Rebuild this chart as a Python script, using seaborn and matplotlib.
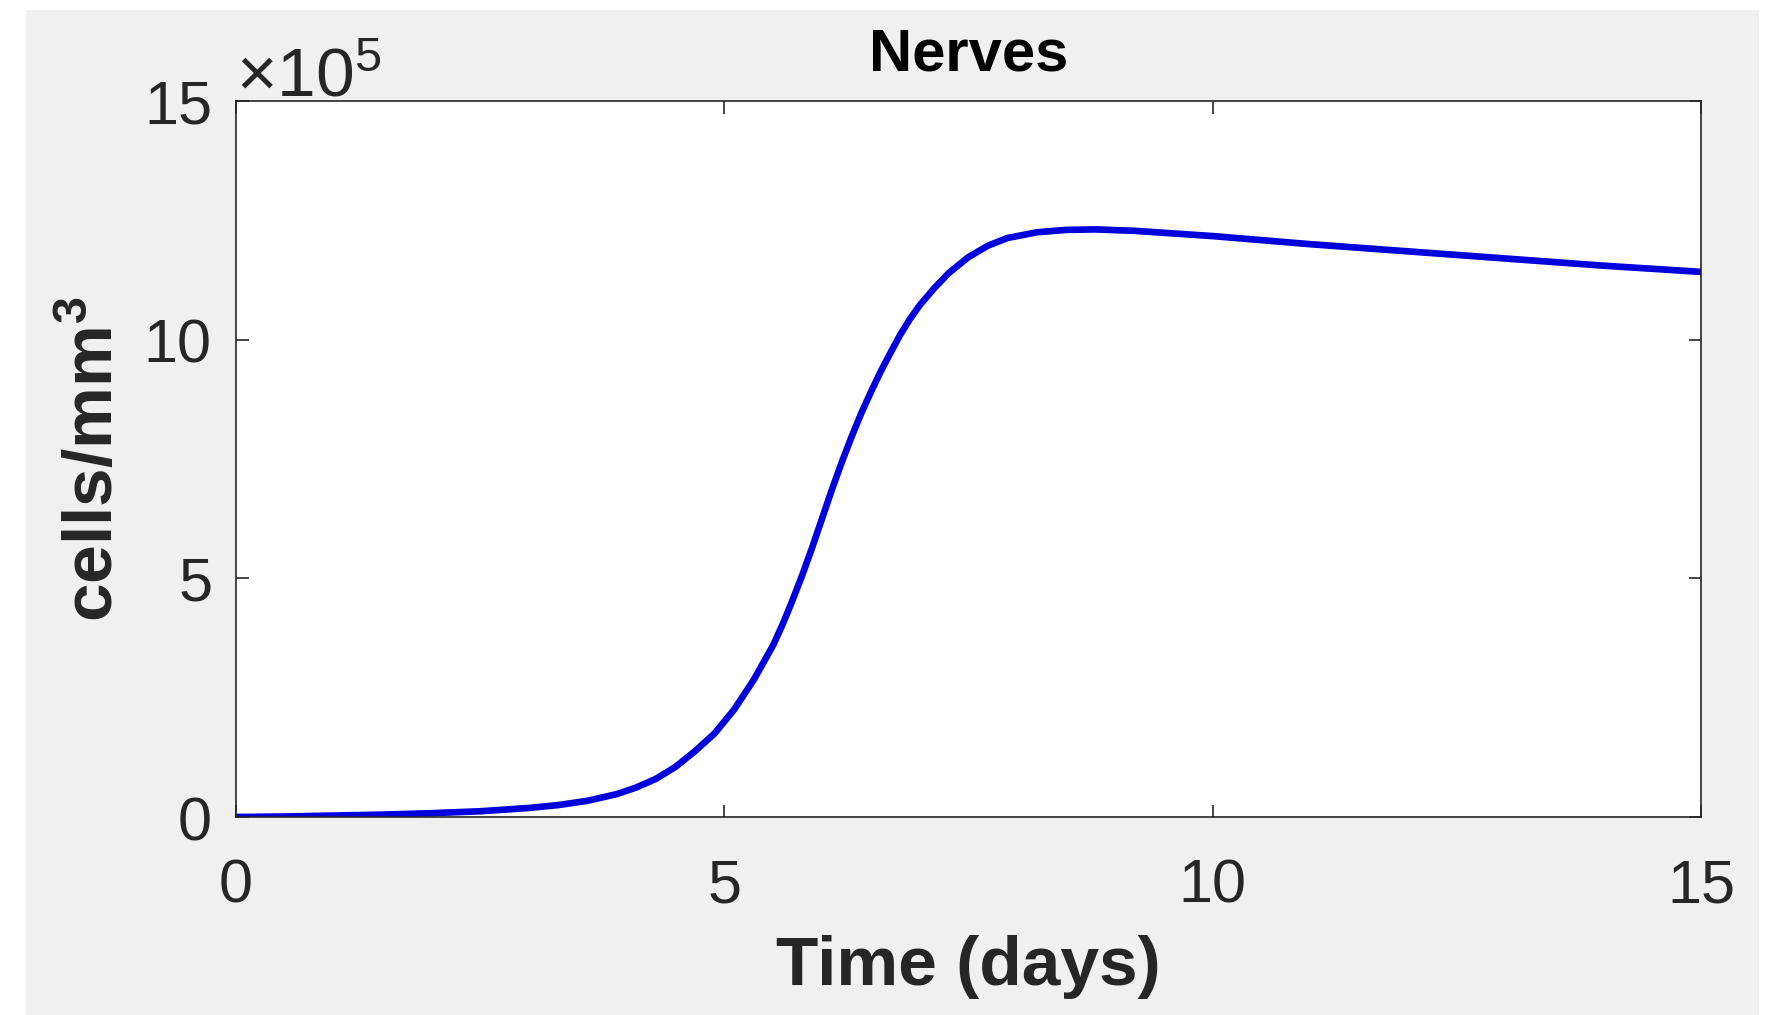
import numpy as np
import pandas as pd
import matplotlib
matplotlib.use("Agg")
import matplotlib.pyplot as plt
from matplotlib.patches import Rectangle
from matplotlib.ticker import ScalarFormatter
import seaborn as sns

# ---- data ----
time_days = [0, 0.5, 1.0, 1.5, 2.0, 2.5, 3.0, 3.3, 3.6, 3.9, 4.1, 4.3, 4.5, 4.7, 4.9,
             5.1, 5.3, 5.5, 5.6, 5.7, 5.8, 5.9, 6.0, 6.1, 6.2, 6.3, 6.4, 6.5, 6.6, 6.7,
             6.8, 6.9, 7.0, 7.15, 7.3, 7.5, 7.7, 7.9, 8.2, 8.5, 8.8, 9.2, 10, 11, 12,
             13, 14, 15]
nerves = [0, 1000, 3000, 5000, 8000, 12000, 19000, 25000, 34000, 48000, 62000, 80000,
          105000, 138000, 175000, 225000, 287000, 360000, 405000, 455000, 508000,
          565000, 625000, 685000, 742000, 795000, 845000, 890000, 933000, 972000,
          1010000, 1043000, 1072000, 1108000, 1140000, 1173000, 1197000, 1213000,
          1225000, 1230000, 1231000, 1228000, 1217000, 1200000, 1185000, 1170000,
          1155000, 1142000]
x_ticks = [0, 5, 10, 15]
y_ticks = [0, 500000, 1000000, 1500000]
title_text = "Nerves"
x_label = "Time (days)"
y_label = r"cells/mm$^{\mathbf{3}}$"

df = pd.DataFrame({"t": time_days, "n": nerves})

sns.set_style("ticks")
plt.rcParams["font.family"] = ["Liberation Sans", "DejaVu Sans"]
plt.rcParams["mathtext.fontset"] = "custom"
plt.rcParams["mathtext.rm"] = "Liberation Sans"
plt.rcParams["mathtext.bf"] = "Liberation Sans:bold"
plt.rcParams["mathtext.it"] = "Liberation Sans:italic"

W, H = 1767, 1015
fig = plt.figure(figsize=(W / 100, H / 100), dpi=100, facecolor="white")
# gray figure area (white margins on left, top, right)
bg = Rectangle((26 / W, 0), (1759 - 26) / W, (H - 10) / H,
               transform=fig.transFigure, facecolor="#f0f0f0",
               edgecolor="none", zorder=-10)
fig.patches.append(bg)

ax = fig.add_axes([236 / W, (H - 817) / H, (1701 - 236) / W, (817 - 101) / H])
ax.set_zorder(1)
ax.set_facecolor("white")

sns.lineplot(data=df, x="t", y="n", ax=ax, color="#0000dd", linewidth=4.8,
             solid_capstyle="butt", solid_joinstyle="round")

ax.set_xlim(0, 15)
ax.set_ylim(0, 1500000)
ax.set_xticks(x_ticks)
ax.set_yticks(y_ticks)

fmt = ScalarFormatter(useMathText=True)
fmt.set_powerlimits((5, 5))
ax.yaxis.set_major_formatter(fmt)
ax.yaxis.get_offset_text().set_fontsize(50)
ax.yaxis.get_offset_text().set_color("#262626")

for s in ax.spines.values():
    s.set_visible(True)
    s.set_color("#262626")
    s.set_linewidth(1.2)

ax.tick_params(axis="both", which="major", direction="in", length=9, width=1.2,
               color="#262626", labelsize=44, labelcolor="#262626",
               top=True, right=True)
ax.tick_params(axis="x", pad=30)
ax.tick_params(axis="y", pad=18)

ax.set_title(title_text, fontsize=43, fontweight="bold", color="black", pad=22)
ax.set_xlabel(x_label, fontsize=50, fontweight="bold", color="#262626", labelpad=14)
ax.set_ylabel(y_label, fontsize=50, fontweight="bold", color="#262626", labelpad=12)

fig.savefig("out.png", dpi=100, facecolor=fig.get_facecolor())
